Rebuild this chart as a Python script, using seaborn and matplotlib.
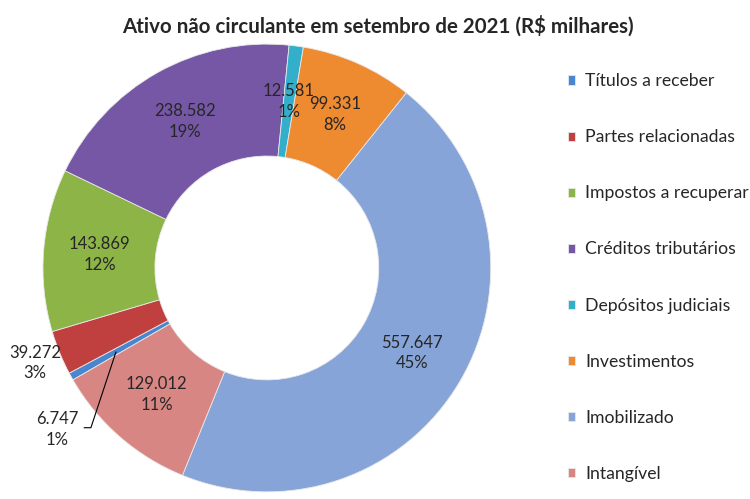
import matplotlib.pyplot as plt
import seaborn as sns
import numpy as np

sns.set_style("white")
plt.rcParams['font.family'] = ['Lato', 'DejaVu Sans']

categories = ['Títulos a receber', 'Partes relacionadas', 'Impostos a recuperar',
              'Créditos tributários', 'Depósitos judiciais', 'Investimentos',
              'Imobilizado', 'Intangível']
values = [6747, 39272, 143869, 238582, 12581, 99331, 557647, 129012]
pct_labels = ['1%', '3%', '12%', '19%', '1%', '8%', '45%', '11%']
colors = ['#4A86D0', '#C0403F', '#8DB446', '#7657A6', '#33AFCC', '#EE8A30',
          '#86A4D8', '#D88684']


def fmt(v):
    return f'{v:,}'.replace(',', '.')


fig = plt.figure(figsize=(7.5, 4.99), dpi=100)
ax = fig.add_axes([0.0573, 0.014, 0.597, 0.898])

wedges, _ = ax.pie(values, colors=colors, startangle=210, counterclock=False,
                   radius=1.0, wedgeprops=dict(width=0.5, edgecolor='#e8e8e8', linewidth=0.6))
ax.set_xlim(-1, 1)
ax.set_ylim(-1, 1)

lab_kw = dict(ha='center', va='center', fontsize=12, linespacing=1.35)
for i, w in enumerate(wedges):
    mid = np.deg2rad((w.theta1 + w.theta2) / 2)
    txt = f'{fmt(values[i])}\n{pct_labels[i]}'
    if i == 0:
        # small slice: label pulled outside with a leader line
        ang = mid + np.deg2rad(8.6)
        x, y = 1.184 * np.cos(ang), 1.184 * np.sin(ang)
        ax.text(x, y, txt, **lab_kw)
        sx, sy = 0.77 * np.cos(mid), 0.77 * np.sin(mid)
        ax.plot([sx, x + 0.152, x + 0.12], [sy, y + 0.009, y + 0.009],
                color='black', lw=0.8, solid_capstyle='butt')
    elif i == 1:
        x, y = 1.12 * np.cos(mid), 1.12 * np.sin(mid)
        ax.text(x, y, txt, **lab_kw)
    else:
        x, y = 0.75 * np.cos(mid), 0.75 * np.sin(mid)
        ax.text(x, y, txt, **lab_kw)

fig.text(0.504, 0.948, 'Ativo não circulante em setembro de 2021 (R$ milhares)',
         ha='center', va='center', fontsize=14.8, fontweight='bold')

fig.legend(wedges, categories, loc='upper left', bbox_to_anchor=(0.757, 0.853),
           frameon=False, fontsize=12.7, handlelength=0.42, handleheight=0.42,
           handletextpad=0.57, labelspacing=2.27, borderpad=0, borderaxespad=0)

plt.savefig('out.png', dpi=100)
